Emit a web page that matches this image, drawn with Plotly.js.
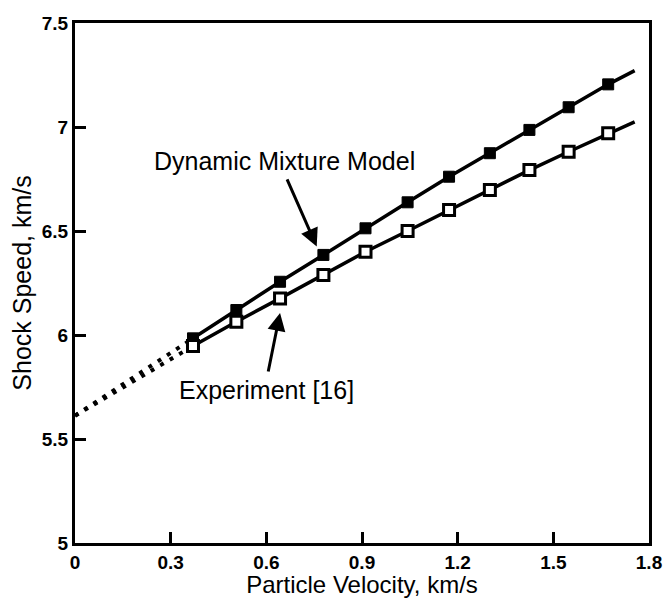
<!DOCTYPE html>
<html>
<head>
<meta charset="utf-8">
<script src="https://cdn.plot.ly/plotly-3.0.1.min.js"></script>
<style>html,body{margin:0;padding:0;background:#fff;}#chart{width:665px;height:598px;}</style>
</head>
<body>
<div id="chart"></div>
<script>
// Particle velocity (km/s) at the marker points
const particleVelocity = [0.370, 0.506, 0.643, 0.779, 0.911, 1.043, 1.173, 1.301, 1.425, 1.548, 1.672];
// Dynamic Mixture Model shock speed (km/s)
const modelShockSpeed = [5.984, 6.120, 6.256, 6.385, 6.513, 6.638, 6.761, 6.874, 6.986, 7.095, 7.205];
// Experiment [16] shock speed (km/s)
const expShockSpeed = [5.947, 6.064, 6.176, 6.288, 6.400, 6.500, 6.601, 6.697, 6.793, 6.881, 6.970];
// Curve end points beyond the last marker
const lineEndVelocity = 1.755;
const modelLineEnd = 7.271;
const expLineEnd = 7.025;
// Extrapolation to zero particle velocity
const interceptSpeed = 5.612;

const xTicks = [0, 0.3, 0.6, 0.9, 1.2, 1.5, 1.8];
const xTickLabels = ['0', '0.3', '0.6', '0.9', '1.2', '1.5', '1.8'];
const yTicks = [5, 5.5, 6, 6.5, 7, 7.5];
const yTickLabels = ['5', '5.5', '6', '6.5', '7', '7.5'];

const FONT = 'Liberation Sans, Arial, sans-serif';

const traces = [
  { // dotted extrapolation to model
    x: [0, particleVelocity[0]], y: [interceptSpeed, modelShockSpeed[0]],
    mode: 'lines', line: {color: '#000', width: 4, dash: '4px,7px'}, hoverinfo: 'skip'
  },
  { // dotted extrapolation to experiment
    x: [0, particleVelocity[0]], y: [interceptSpeed, expShockSpeed[0]],
    mode: 'lines', line: {color: '#000', width: 4, dash: '4px,7px'}, hoverinfo: 'skip'
  },
  { // model curve
    x: particleVelocity.concat([lineEndVelocity]), y: modelShockSpeed.concat([modelLineEnd]),
    mode: 'lines', line: {color: '#000', width: 3.5}
  },
  { // experiment curve
    x: particleVelocity.concat([lineEndVelocity]), y: expShockSpeed.concat([expLineEnd]),
    mode: 'lines', line: {color: '#000', width: 3.5}
  },
  {
    x: particleVelocity, y: modelShockSpeed, mode: 'markers', name: 'Dynamic Mixture Model',
    marker: {symbol: 'square', size: 11, color: '#000', line: {color: '#000', width: 1}}
  },
  {
    x: particleVelocity, y: expShockSpeed, mode: 'markers', name: 'Experiment [16]',
    marker: {symbol: 'square', size: 11, color: '#fff', line: {color: '#000', width: 3}}
  }
];

const layout = {
  width: 665, height: 598,
  margin: {l: 75, r: 16, t: 23, b: 55},
  paper_bgcolor: '#fff', plot_bgcolor: '#fff',
  showlegend: false,
  font: {family: FONT, color: '#000'},
  xaxis: {
    range: [0, 1.8], tickvals: xTicks, ticktext: xTickLabels,
    ticks: 'inside', ticklen: 11, tickwidth: 3, tickcolor: '#000',
    showline: true, linewidth: 3, linecolor: '#000', mirror: true,
    showgrid: false, zeroline: false,
    tickfont: {family: FONT, size: 19, weight: 'bold', color: '#000'},
    title: {text: 'Particle Velocity, km/s', font: {family: FONT, size: 24, color: '#000'}, standoff: 9}
  },
  yaxis: {
    range: [5, 7.5], tickvals: yTicks, ticktext: yTickLabels,
    ticks: 'inside', ticklen: 11, tickwidth: 3, tickcolor: '#000',
    showline: true, linewidth: 3, linecolor: '#000', mirror: true,
    showgrid: false, zeroline: false,
    tickfont: {family: FONT, size: 19, weight: 'bold', color: '#000'},
    title: {text: 'Shock Speed, km/s', font: {family: FONT, size: 25, color: '#000'}, standoff: 4}
  },
  annotations: [
    {
      x: 0.658, y: 6.837, xref: 'x', yref: 'y', text: 'Dynamic Mixture Model',
      showarrow: false, font: {family: FONT, size: 25, color: '#000'}
    },
    {
      x: 0.758, y: 6.425, ax: 0.663, ay: 6.755, xref: 'x', yref: 'y', axref: 'x', ayref: 'y',
      text: '', showarrow: true, arrowhead: 2, arrowsize: 1.2, arrowwidth: 3, arrowcolor: '#000'
    },
    {
      x: 0.602, y: 5.736, xref: 'x', yref: 'y', text: 'Experiment [16]',
      showarrow: false, font: {family: FONT, size: 25, color: '#000'}
    },
    {
      x: 0.643, y: 6.106, ax: 0.605, ay: 5.817, xref: 'x', yref: 'y', axref: 'x', ayref: 'y',
      text: '', showarrow: true, arrowhead: 2, arrowsize: 1.2, arrowwidth: 3, arrowcolor: '#000'
    }
  ]
};

Plotly.newPlot('chart', traces, layout, {staticPlot: true, displayModeBar: false});
</script>
</body>
</html>
